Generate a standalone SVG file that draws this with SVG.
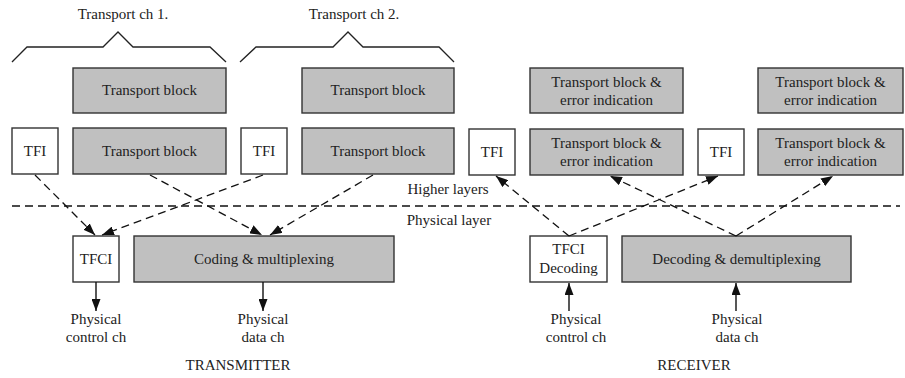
<svg xmlns="http://www.w3.org/2000/svg" width="905" height="378" viewBox="0 0 905 378">
<style>
text{font-family:"Liberation Serif","Times New Roman",serif;font-size:15px;fill:#222;text-anchor:middle}
.g{fill:#c0c0c0;stroke:#333;stroke-width:1.4}
.w{fill:#fff;stroke:#333;stroke-width:1.4}
.d{fill:none;stroke:#111;stroke-width:1.3;stroke-dasharray:8,5}
.s{fill:none;stroke:#111;stroke-width:1.4}
.br{fill:none;stroke:#222;stroke-width:1.3}
</style>
<defs>
<marker id="ah" viewBox="0 0 12 9" refX="12" refY="4.5" markerWidth="12" markerHeight="9" markerUnits="userSpaceOnUse" orient="auto">
<path d="M0,0 L12,4.5 L0,9 Z" fill="#111"/>
</marker>
</defs>
<rect width="905" height="378" fill="#fff"/>

<g id="brace1"><path class="br" d="M12,62 L27,47 L103,47 L118,32 L133,47 L210,47 L226,62"/><text x="123" y="19">Transport ch 1.</text></g>
<g id="brace2"><path class="br" d="M240,62 L256,47 L333,47 L348,32 L363,47 L439,47 L454,62"/><text x="354" y="19">Transport ch 2.</text></g>

<g id="tb1a"><rect class="g" x="73" y="68" width="153" height="45"/><text x="149.5" y="95">Transport block</text></g>
<g id="tb2a"><rect class="g" x="302" y="68" width="152" height="45"/><text x="378" y="95">Transport block</text></g>
<g id="tfi1"><rect class="w" x="12" y="128" width="46" height="46"/><text x="35" y="156">TFI</text></g>
<g id="tb1b"><rect class="g" x="73" y="128" width="153" height="46"/><text x="149.5" y="156">Transport block</text></g>
<g id="tfi2"><rect class="w" x="241" y="128" width="46" height="46"/><text x="264" y="156">TFI</text></g>
<g id="tb2b"><rect class="g" x="302" y="128" width="152" height="46"/><text x="378" y="156">Transport block</text></g>
<g id="tfci"><rect class="w" x="73" y="236" width="46" height="46"/><text x="96" y="264">TFCI</text></g>
<g id="coding"><rect class="g" x="134" y="236" width="260" height="46"/><text x="264" y="264">Coding &amp; multiplexing</text></g>

<g id="rtb1a"><rect class="g" x="530" y="68" width="153" height="45"/><text x="606.5" y="87">Transport block &amp;</text><text x="606.5" y="105">error indication</text></g>
<g id="rtb2a"><rect class="g" x="758" y="68" width="145" height="45"/><text x="830.5" y="87">Transport block &amp;</text><text x="830.5" y="105">error indication</text></g>
<g id="rtfi1"><rect class="w" x="469" y="129" width="46" height="46"/><text x="492" y="157">TFI</text></g>
<g id="rtb1b"><rect class="g" x="530" y="129" width="153" height="46"/><text x="606.5" y="148">Transport block &amp;</text><text x="606.5" y="166">error indication</text></g>
<g id="rtfi2"><rect class="w" x="698" y="129" width="46" height="46"/><text x="721" y="157">TFI</text></g>
<g id="rtb2b"><rect class="g" x="758" y="129" width="145" height="46"/><text x="830.5" y="148">Transport block &amp;</text><text x="830.5" y="166">error indication</text></g>
<g id="tfcidec"><rect class="w" x="530" y="236" width="77" height="46"/><text x="568.5" y="254">TFCI</text><text x="568.5" y="273">Decoding</text></g>
<g id="decoding"><rect class="g" x="622" y="236" width="229" height="46"/><text x="736.5" y="264">Decoding &amp; demultiplexing</text></g>

<g id="labels">
<text x="448" y="194">Higher layers</text>
<text x="449" y="225">Physical layer</text>
<text x="96" y="324">Physical</text><text x="96" y="342">control ch</text>
<text x="263" y="324">Physical</text><text x="263" y="342">data ch</text>
<text x="576" y="324">Physical</text><text x="576" y="342">control ch</text>
<text x="737" y="324">Physical</text><text x="737" y="342">data ch</text>
<text x="238" y="370">TRANSMITTER</text>
<text x="694" y="370">RECEIVER</text>
</g>

<g id="connectors">
<line class="d" x1="12" y1="206" x2="900" y2="206"/>
<line class="d" x1="35" y1="175" x2="95" y2="235" marker-end="url(#ah)"/>
<line class="d" x1="263" y1="175" x2="102" y2="235" marker-end="url(#ah)"/>
<line class="d" x1="150" y1="175" x2="262" y2="235" marker-end="url(#ah)"/>
<line class="d" x1="373" y1="175" x2="270" y2="235" marker-end="url(#ah)"/>
<line class="s" x1="96" y1="282" x2="96" y2="311" marker-end="url(#ah)"/>
<line class="s" x1="263" y1="282" x2="263" y2="311" marker-end="url(#ah)"/>
<line class="d" x1="569" y1="236" x2="496" y2="176" marker-end="url(#ah)"/>
<line class="d" x1="569" y1="236" x2="718" y2="176" marker-end="url(#ah)"/>
<line class="d" x1="736" y1="236" x2="610" y2="176" marker-end="url(#ah)"/>
<line class="d" x1="736" y1="236" x2="833" y2="176" marker-end="url(#ah)"/>
<line class="s" x1="569" y1="311" x2="569" y2="283" marker-end="url(#ah)"/>
<line class="s" x1="736" y1="311" x2="736" y2="283" marker-end="url(#ah)"/>
</g>
</svg>
